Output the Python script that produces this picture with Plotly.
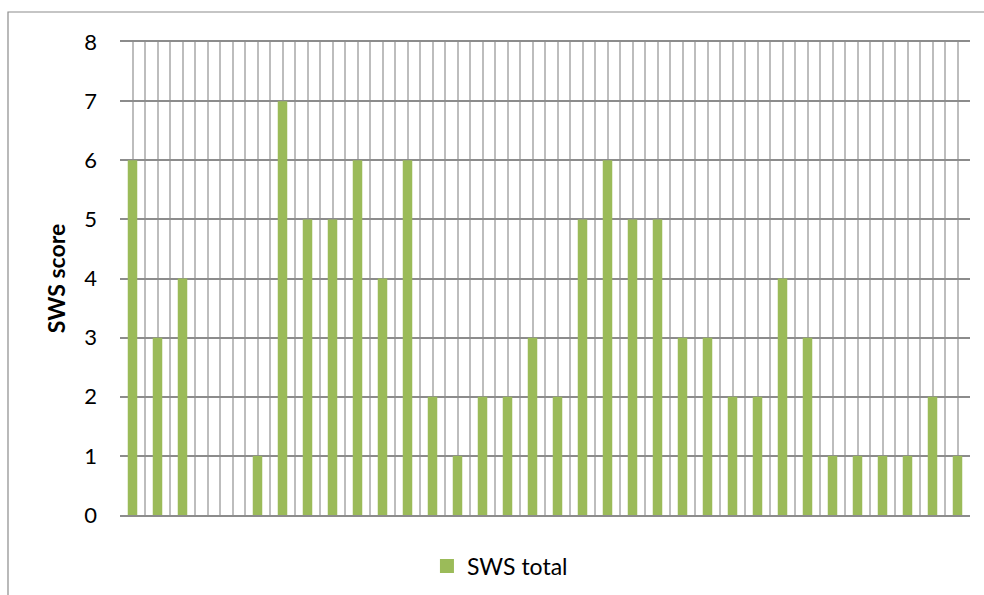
import plotly.graph_objects as go

# SWS total score per subject (34 subjects, unlabeled on the axis)
subjects = list(range(1, 35))
sws_total = [6, 3, 4, 0, 0, 1, 7, 5, 5, 6, 4, 6, 2, 1, 2, 2, 3, 2,
             5, 6, 5, 5, 3, 3, 2, 2, 4, 3, 1, 1, 1, 1, 2, 1]
y_ticks = [0, 1, 2, 3, 4, 5, 6, 7, 8]

FONT = "Lato, Carlito, 'Liberation Sans', sans-serif"
BAR_COLOR = "#9BBB59"
positions = [s - 1 for s in subjects]

fig = go.Figure()
fig.add_trace(go.Bar(
    x=positions,
    y=sws_total,
    name="SWS total",
    marker=dict(color=BAR_COLOR, line=dict(width=0)),
    width=0.38,
    showlegend=False,
))
# legend entry with a larger square swatch
fig.add_trace(go.Scatter(
    x=[None], y=[None],
    mode="markers",
    name="SWS total",
    marker=dict(symbol="square", size=14, color=BAR_COLOR),
    showlegend=True,
))

fig.update_layout(
    width=984,
    height=595,
    margin=dict(l=120, r=14, t=42, b=80, autoexpand=False),
    paper_bgcolor="white",
    plot_bgcolor="white",
    font=dict(family=FONT, color="#000000", size=22),
    showlegend=True,
    legend=dict(
        orientation="h",
        x=0.447, xanchor="center",
        y=-0.108, yanchor="middle",
        font=dict(family=FONT, size=23),
        itemwidth=30,
        bgcolor="rgba(0,0,0,0)",
    ),
    xaxis=dict(
        range=[-0.5, len(subjects) - 0.5],
        tick0=-0.5,
        dtick=0.5,
        showgrid=True,
        gridcolor="#BDBDBD",
        gridwidth=1.5,
        showticklabels=False,
        ticks="",
        zeroline=False,
        showline=True,
        linecolor="#8C8C8C",
        linewidth=2,
        mirror=True,
    ),
    yaxis=dict(
        range=[0, 8],
        tickvals=y_ticks,
        ticktext=[str(v) for v in y_ticks],
        showgrid=True,
        gridcolor="#8C8C8C",
        gridwidth=1.5,
        zeroline=False,
        ticks="",
        ticklabelstandoff=22,
        tickfont=dict(family=FONT, size=22),
        title=dict(
            text="<b>SWS score</b>",
            font=dict(family=FONT, size=23),
            standoff=12,
        ),
        showline=False,
    ),
)

# outer chart frame, running off the right and bottom edges of the page
fig.add_shape(
    type="rect", xref="paper", yref="paper",
    x0=(8 - 120) / 850, x1=(990 - 120) / 850,
    y0=(515 - 600) / 473, y1=(515 - 12) / 473,
    line=dict(color="#8C8C8C", width=1.2),
    fillcolor="rgba(0,0,0,0)",
    layer="below",
)

fig.write_html("out.html")
